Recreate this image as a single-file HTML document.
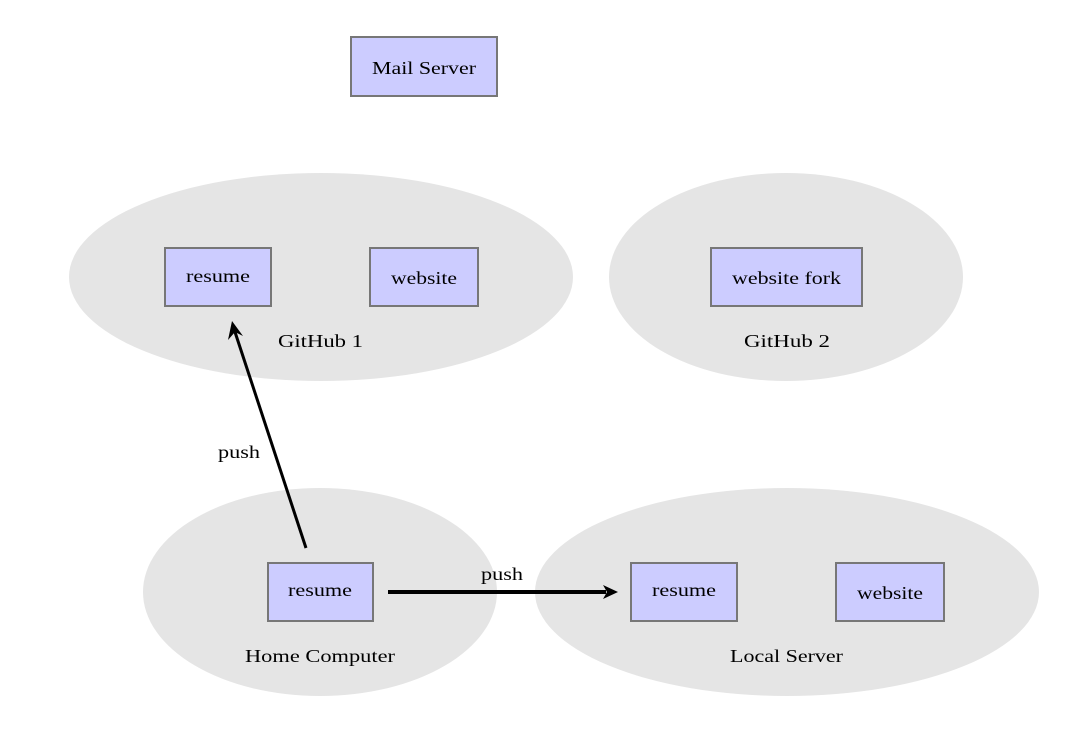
<!DOCTYPE html>
<html><head><style>html,body{margin:0;padding:0;background:#fff}</style></head>
<body>
<svg width="1076" height="736" xmlns="http://www.w3.org/2000/svg" font-family="Liberation Serif, serif" font-size="18" fill="#000">
<rect width="1076" height="736" fill="#fff"/>
<ellipse cx="321" cy="277" rx="252" ry="104" fill="#e5e5e5"/>
<ellipse cx="786" cy="277" rx="177" ry="104" fill="#e5e5e5"/>
<ellipse cx="320" cy="592" rx="177" ry="104" fill="#e5e5e5"/>
<ellipse cx="787" cy="592" rx="252" ry="104" fill="#e5e5e5"/>
<g fill="#ccccff" stroke="#777" stroke-width="2">
<rect x="351" y="37" width="146" height="59"/>
<rect x="165" y="248" width="106" height="58"/>
<rect x="370" y="248" width="108" height="58"/>
<rect x="711" y="248" width="151" height="58"/>
<rect x="268" y="563" width="105" height="58"/>
<rect x="631" y="563" width="106" height="58"/>
<rect x="836" y="563" width="108" height="58"/>
</g>
<g lengthAdjust="spacingAndGlyphs">
<text x="372" y="74" textLength="104" lengthAdjust="spacingAndGlyphs">Mail Server</text>
<text x="186" y="282" textLength="64" lengthAdjust="spacingAndGlyphs">resume</text>
<text x="391" y="284" textLength="66" lengthAdjust="spacingAndGlyphs">website</text>
<text x="732" y="284" textLength="109" lengthAdjust="spacingAndGlyphs">website fork</text>
<text x="278" y="347" textLength="85" lengthAdjust="spacingAndGlyphs">GitHub 1</text>
<text x="744" y="347" textLength="86" lengthAdjust="spacingAndGlyphs">GitHub 2</text>
<text x="288" y="596" textLength="64" lengthAdjust="spacingAndGlyphs">resume</text>
<text x="652" y="596" textLength="64" lengthAdjust="spacingAndGlyphs">resume</text>
<text x="857" y="599" textLength="66" lengthAdjust="spacingAndGlyphs">website</text>
<text x="245" y="662" textLength="150" lengthAdjust="spacingAndGlyphs">Home Computer</text>
<text x="730" y="662" textLength="113" lengthAdjust="spacingAndGlyphs">Local Server</text>
<text x="218" y="458" textLength="42" lengthAdjust="spacingAndGlyphs">push</text>
<text x="481" y="580" textLength="42" lengthAdjust="spacingAndGlyphs">push</text>
</g>
<line x1="306" y1="548" x2="235" y2="332" stroke="#000" stroke-width="3"/>
<polygon points="232,321 243,336 235,332 228,340" fill="#000"/>
<line x1="388" y1="592" x2="606" y2="592" stroke="#000" stroke-width="4"/>
<polygon points="618,592 603,585 607,592 603,599" fill="#000"/>
</svg>
</body></html>
